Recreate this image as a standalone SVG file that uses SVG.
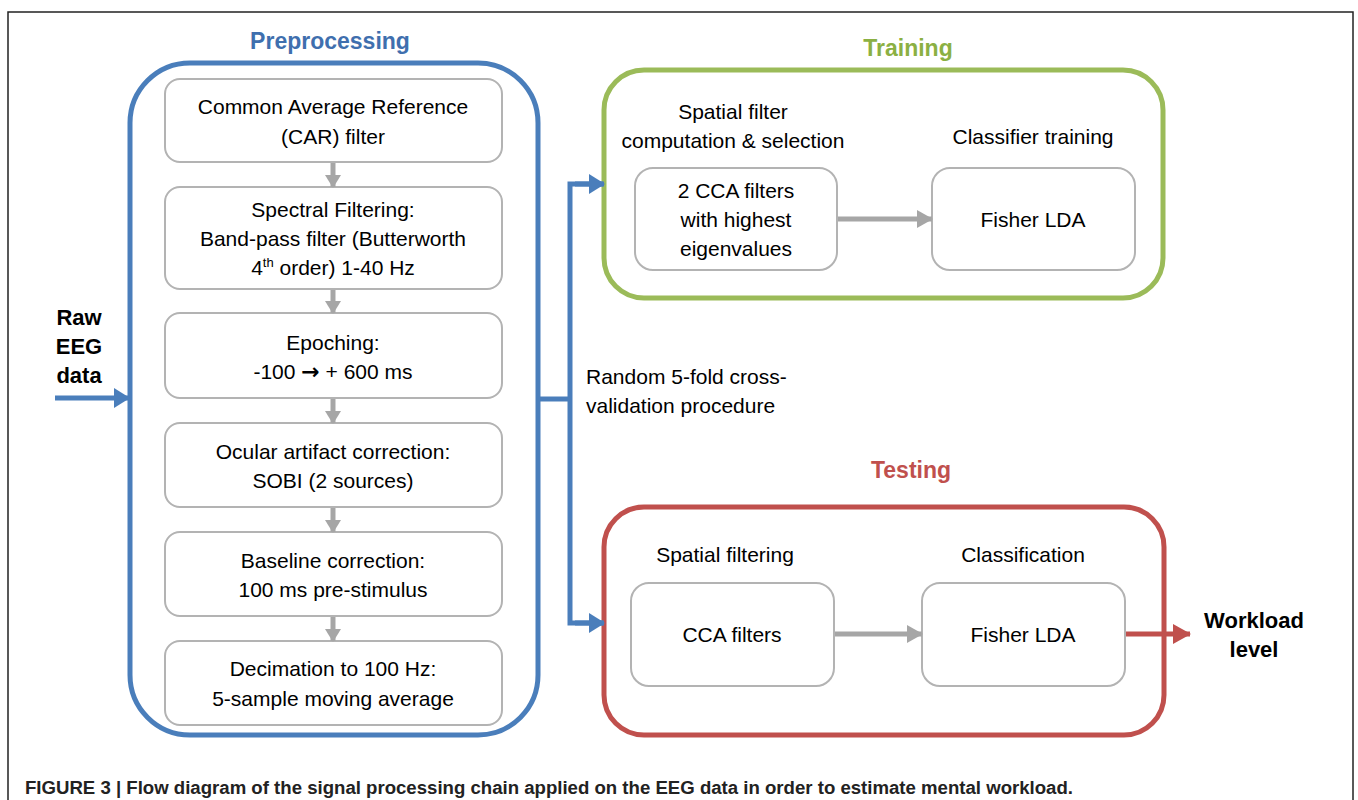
<svg xmlns="http://www.w3.org/2000/svg" width="1358" height="800" viewBox="0 0 1358 800">
<style>
.t{font-family:"Liberation Sans",Arial,sans-serif;font-size:21px;fill:#000;text-anchor:middle}
.b{font-family:"Liberation Sans",Arial,sans-serif;font-weight:bold;font-size:22px;fill:#000;text-anchor:middle}
.h{font-family:"Liberation Sans",Arial,sans-serif;font-weight:bold;font-size:23px;text-anchor:middle}
.box{fill:#fff;stroke:#b3b3b3;stroke-width:2}
.g{stroke:#a6a6a6;stroke-width:5;fill:none}
.bl{stroke:#4a7ebb;stroke-width:5;fill:none}
</style>
<defs>
<marker id="ag" markerUnits="userSpaceOnUse" markerWidth="16" markerHeight="18" refX="15" refY="9" orient="auto"><path d="M0,0 L16,9 L0,18 Z" fill="#a6a6a6"/></marker>
<marker id="agv" markerUnits="userSpaceOnUse" markerWidth="13" markerHeight="16" refX="12" refY="8" orient="auto"><path d="M0,0 L13,8 L0,16 Z" fill="#a6a6a6"/></marker>
<marker id="ab" markerUnits="userSpaceOnUse" markerWidth="16" markerHeight="20" refX="15" refY="10" orient="auto"><path d="M0,0 L16,10 L0,20 Z" fill="#4a7ebb"/></marker>
<marker id="ar" markerUnits="userSpaceOnUse" markerWidth="18" markerHeight="20" refX="17" refY="10" orient="auto"><path d="M0,0 L18,10 L0,20 Z" fill="#c0504d"/></marker>
</defs>
<rect width="1358" height="800" fill="#fff"/>
<rect x="8" y="12" width="1345" height="810" fill="none" stroke="#222" stroke-width="1.5"/>

<g id="raw">
<text class="b" x="79" y="325">Raw</text>
<text class="b" x="79" y="354">EEG</text>
<text class="b" x="79" y="383">data</text>
</g>

<g id="preprocessing">
<text class="h" x="330" y="49" fill="#3f6fae">Preprocessing</text>
<rect x="130" y="63" width="408" height="672" rx="60" fill="none" stroke="#4a7ebb" stroke-width="5"/>
</g>
<g id="car"><rect class="box" x="165" y="79" width="337" height="83" rx="15"/>
<text class="t" x="333" y="114">Common Average Reference</text><text class="t" x="333" y="144">(CAR) filter</text></g>
<g id="spectral"><rect class="box" x="165" y="187" width="337" height="102" rx="15"/>
<text class="t" x="333" y="217">Spectral Filtering:</text><text class="t" x="333" y="246">Band-pass filter (Butterworth</text><text class="t" x="333" y="275">4<tspan font-size="13" dy="-8">th</tspan><tspan dy="8"> order) 1-40 Hz</tspan></text></g>
<g id="epoching"><rect class="box" x="165" y="313" width="337" height="85" rx="15"/>
<text class="t" x="333" y="350">Epoching:</text><text class="t" x="333" y="379">-100 <tspan font-family="'DejaVu Sans',sans-serif" font-weight="bold" font-size="22">→</tspan> + 600 ms</text></g>
<g id="ocular"><rect class="box" x="165" y="423" width="337" height="84" rx="15"/>
<text class="t" x="333" y="459">Ocular artifact correction:</text><text class="t" x="333" y="488">SOBI (2 sources)</text></g>
<g id="baseline"><rect class="box" x="165" y="532" width="337" height="84" rx="15"/>
<text class="t" x="333" y="568">Baseline correction:</text><text class="t" x="333" y="597">100 ms pre-stimulus</text></g>
<g id="decimation"><rect class="box" x="165" y="641" width="337" height="84" rx="15"/>
<text class="t" x="333" y="676">Decimation to 100 Hz:</text><text class="t" x="333" y="706">5-sample moving average</text></g>

<g id="training">
<text class="h" x="908" y="56" fill="#8bb043">Training</text>
<rect x="604" y="70" width="559" height="228" rx="40" fill="none" stroke="#9bbb59" stroke-width="5"/>
<text class="t" x="733" y="119">Spatial filter</text>
<text class="t" x="733" y="148">computation &amp; selection</text>
<text class="t" x="1033" y="144">Classifier training</text>
</g>
<g id="cca2"><rect class="box" x="635" y="168" width="202" height="102" rx="18"/>
<text class="t" x="736" y="198">2 CCA filters</text><text class="t" x="736" y="227">with highest</text><text class="t" x="736" y="256">eigenvalues</text></g>
<g id="lda1"><rect class="box" x="932" y="168" width="203" height="102" rx="18"/>
<text class="t" x="1033" y="227">Fisher LDA</text></g>

<g id="testing">
<text class="h" x="911" y="478" fill="#c0504d">Testing</text>
<rect x="604" y="507" width="560" height="228" rx="40" fill="none" stroke="#c0504d" stroke-width="5"/>
<text class="t" x="725" y="562">Spatial filtering</text>
<text class="t" x="1023" y="562">Classification</text>
</g>
<g id="ccaf"><rect class="box" x="631" y="583" width="203" height="103" rx="18"/>
<text class="t" x="732" y="642">CCA filters</text></g>
<g id="lda2"><rect class="box" x="922" y="583" width="203" height="103" rx="18"/>
<text class="t" x="1023" y="642">Fisher LDA</text></g>

<g id="cv">
<text class="t" x="586" y="384" style="text-anchor:start">Random 5-fold cross-</text>
<text class="t" x="586" y="413" style="text-anchor:start">validation procedure</text>
</g>

<g id="workload">
<text class="b" x="1254" y="628">Workload</text>
<text class="b" x="1254" y="657">level</text>
</g>

<g id="connectors">
<line class="g" x1="333" y1="163" x2="333" y2="187" marker-end="url(#agv)" stroke-width="4"/>
<line class="g" x1="333" y1="290" x2="333" y2="313" marker-end="url(#agv)" stroke-width="4"/>
<line class="g" x1="333" y1="399" x2="333" y2="423" marker-end="url(#agv)" stroke-width="4"/>
<line class="g" x1="333" y1="508" x2="333" y2="532" marker-end="url(#agv)" stroke-width="4"/>
<line class="g" x1="333" y1="617" x2="333" y2="641" marker-end="url(#agv)" stroke-width="4"/>
<line class="g" x1="838" y1="219" x2="932" y2="219" marker-end="url(#ag)"/>
<line class="g" x1="835" y1="634" x2="922" y2="634" marker-end="url(#ag)"/>
<line class="bl" x1="55" y1="398" x2="129" y2="398" marker-end="url(#ab)"/>
<polyline class="bl" points="538,399 570,399"/>
<polyline class="bl" points="603,184 570,184 570,623 603,623" stroke-linejoin="miter"/>
<line class="bl" x1="575" y1="184" x2="604" y2="184" marker-end="url(#ab)"/>
<line class="bl" x1="575" y1="623" x2="604" y2="623" marker-end="url(#ab)"/>
<line x1="1126" y1="634" x2="1190" y2="634" stroke="#c0504d" stroke-width="5" marker-end="url(#ar)"/>
</g>

<text x="25" y="794" font-family="'Liberation Sans',Arial,sans-serif" font-weight="bold" font-size="18" fill="#222" textLength="1048" lengthAdjust="spacingAndGlyphs">FIGURE 3 | Flow diagram of the signal processing chain applied on the EEG data in order to estimate mental workload.</text>
</svg>
